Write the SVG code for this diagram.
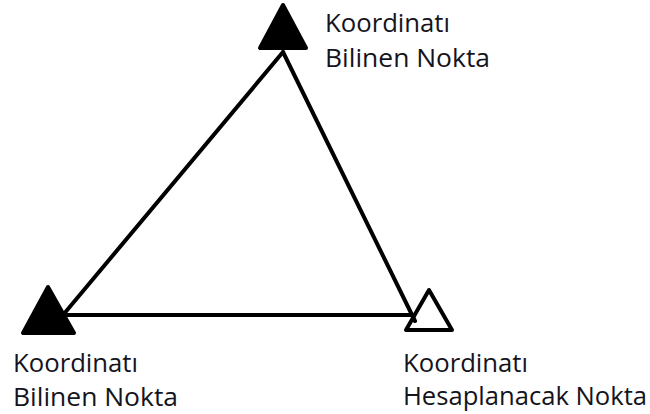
<svg xmlns="http://www.w3.org/2000/svg" width="650" height="414" viewBox="0 0 650 414">
<style>
.lbl{font-family:"Open Sans","Liberation Sans",sans-serif;font-size:25px;fill:#141420}
.tri{stroke:#000;stroke-width:4;stroke-linejoin:round}
.edge{stroke:#000;stroke-width:4;fill:none;stroke-linecap:round}
</style>
<rect width="650" height="414" fill="#fff"/>
<g id="node-top">
<polygon class="tri" points="283,5 260,48 306,48" fill="#000"/>
<text class="lbl" x="325" y="32" textLength="125" lengthAdjust="spacingAndGlyphs">Koordinatı</text>
<text class="lbl" x="325" y="67" textLength="165" lengthAdjust="spacingAndGlyphs">Bilinen Nokta</text>
</g>
<g id="node-left">
<polygon class="tri" points="48,287 23,333 74,333" fill="#000"/>
<text class="lbl" x="13" y="372" textLength="125" lengthAdjust="spacingAndGlyphs">Koordinatı</text>
<text class="lbl" x="13" y="406" textLength="165" lengthAdjust="spacingAndGlyphs">Bilinen Nokta</text>
</g>
<g id="node-right">
<polygon class="tri" points="429,290 406,330 452,330" fill="#fff"/>
<text class="lbl" x="403" y="372" textLength="125" lengthAdjust="spacingAndGlyphs">Koordinatı</text>
<text class="lbl" x="403" y="405" textLength="244" lengthAdjust="spacingAndGlyphs">Hesaplanacak Nokta</text>
</g>
<g id="connectors">
<line class="edge" x1="283" y1="52" x2="63" y2="315"/>
<line class="edge" x1="283" y1="52" x2="415" y2="321"/>
<line class="edge" x1="63" y1="315" x2="414" y2="315"/>
</g>
</svg>
